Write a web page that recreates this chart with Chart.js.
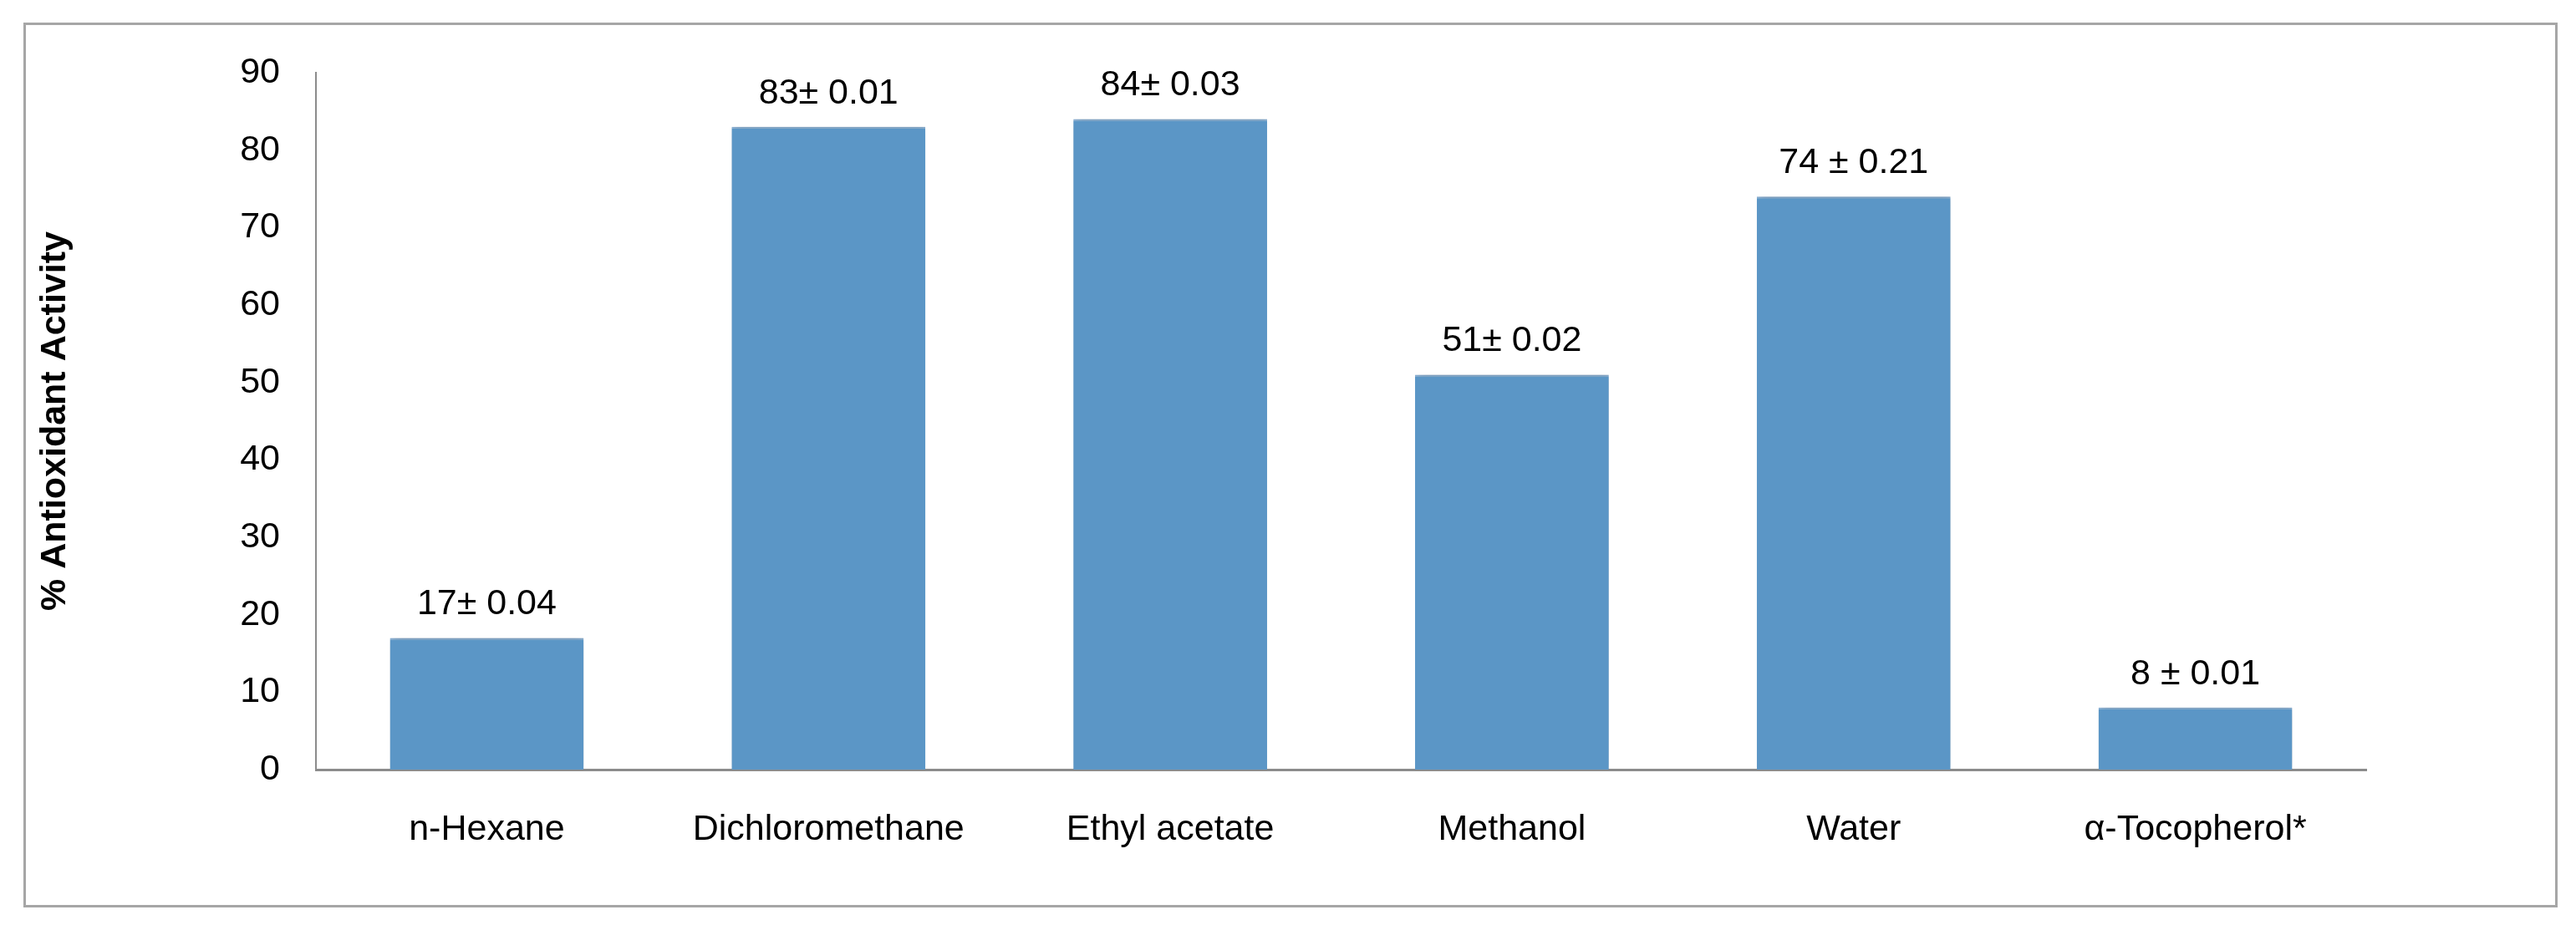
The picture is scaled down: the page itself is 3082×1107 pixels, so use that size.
<!DOCTYPE html>
<html>
<head>
<meta charset="utf-8">
<script src="https://cdn.jsdelivr.net/npm/chart.js@4.4.1/dist/chart.umd.min.js"></script>
<style>
  html, body { margin: 0; padding: 0; background: #ffffff; }
  #wrap { position: absolute; left: 0; top: 0; width: 3082px; height: 1107px; }
  #frame { position: absolute; left: 28px; top: 27px; width: 3026px; height: 1053px;
           border: 3px solid #a6a6a6; box-sizing: content-box; pointer-events: none; }
</style>
</head>
<body>
<div id="wrap">
  <canvas id="c" width="3082" height="1107"></canvas>
  <div id="frame"></div>
</div>
<script>
const categories = ["n-Hexane", "Dichloromethane", "Ethyl acetate", "Methanol", "Water", "\u03b1-Tocopherol*"];
const activity = [17, 83, 84, 51, 74, 8];
const valueLabels = ["17\u00b1 0.04", "83\u00b1 0.01", "84\u00b1 0.03", "51\u00b1 0.02", "74 \u00b1 0.21", "8 \u00b1 0.01"];
const yTicks = [0, 10, 20, 30, 40, 50, 60, 70, 80, 90];
const yTitle = "% Antioxidant Activity";

const FONT = "'Liberation Sans', Arial, sans-serif";

const shadowPlugin = {
  id: 'barShadow',
  beforeDatasetsDraw(chart) {
    const ctx = chart.ctx;
    ctx.save();
    ctx.shadowColor = 'rgba(0,0,0,0.28)';
    ctx.shadowBlur = 10;
    ctx.shadowOffsetX = 2;
    ctx.shadowOffsetY = 0;
  },
  afterDatasetsDraw(chart) {
    chart.ctx.restore();
  }
};

const labelPlugin = {
  id: 'valueLabels',
  afterDraw(chart) {
    const ctx = chart.ctx;
    const meta = chart.getDatasetMeta(0);
    ctx.save();
    ctx.font = "43px " + FONT;
    ctx.fillStyle = '#000000';
    ctx.textAlign = 'center';
    ctx.textBaseline = 'middle';
    meta.data.forEach((bar, i) => {
      ctx.fillText(valueLabels[i], bar.x, bar.y - 40);
    });
    ctx.restore();
  }
};

new Chart(document.getElementById('c'), {
  type: 'bar',
  data: {
    labels: categories,
    datasets: [{
      data: activity,
      backgroundColor: '#5b96c6',
      borderColor: '#8fb6dc',
      borderWidth: { top: 2, left: 0, right: 0, bottom: 0 },
      borderSkipped: false,
      barPercentage: 0.567,
      categoryPercentage: 1.0
    }]
  },
  options: {
    responsive: false,
    animation: false,
    devicePixelRatio: 1,
    layout: { padding: { left: 40, right: 251, top: 87, bottom: 0 } },
    plugins: {
      legend: { display: false },
      tooltip: { enabled: false },
      title: { display: false }
    },
    scales: {
      x: {
        grid: { display: false, drawTicks: false },
        border: { display: true, color: '#8c8c8c', width: 3 },
        ticks: {
          color: '#000000',
          font: { family: FONT, size: 43 },
          padding: 46,
          maxRotation: 0,
          autoSkip: false
        },
        afterFit(scale) { scale.height = 186; }
      },
      y: {
        min: 0,
        max: 90,
        afterBuildTicks(scale) { scale.ticks = yTicks.map(v => ({ value: v })); },
        grid: { display: false, drawTicks: false },
        border: { display: true, color: '#8c8c8c', width: 2 },
        ticks: {
          color: '#000000',
          font: { family: FONT, size: 43 },
          padding: 43
        },
        title: {
          display: true,
          text: yTitle,
          color: '#000000',
          font: { family: FONT, size: 43, weight: 'bold' },
          padding: { top: 0, bottom: 0 }
        },
        afterFit(scale) { scale.width = 338; }
      }
    }
  },
  plugins: [shadowPlugin, labelPlugin]
});
</script>
</body>
</html>
